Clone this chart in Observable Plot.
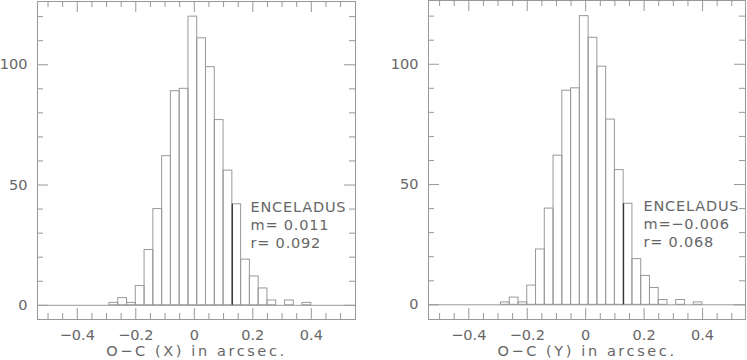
<!DOCTYPE html>
<html><head><meta charset="utf-8">
<script src="https://cdn.jsdelivr.net/npm/d3@7"></script>
<script src="https://cdn.jsdelivr.net/npm/@observablehq/plot@0.6"></script>
<style>
html,body{margin:0;padding:0;background:#fff;}
#wrap{position:relative;width:747px;height:360px;overflow:hidden;background:#fff;}
#wrap svg{position:absolute;top:0;}
</style></head><body><div id="wrap"></div>
<script>
// Histogram bins (lower edges, width 0.03 arcsec)
const binLo = [-0.29,-0.26,-0.23,-0.20,-0.17,-0.14,-0.11,-0.08,-0.05,-0.02,0.01,0.04,0.07,0.10,0.13,0.16,0.19,0.22,0.25,0.28,0.31,0.34,0.37];
const binWidth = 0.03;
const countsX = [1,3,1,8,23,40,62,89,90,120,111,99,77,56,42,19,12,7,2,0,2,0,1];
const countsY = [1,3,1,8,23,40,62,89,90,120,111,99,77,56,42,19,12,7,2,0,2,0,1];
const darkEdgeBin = 14;

const xMajor = [-0.4,-0.2,0,0.2,0.4];
const xMinor = [-0.5,-0.45,-0.35,-0.3,-0.25,-0.15,-0.1,-0.05,0.05,0.1,0.15,0.25,0.3,0.35,0.45,0.5];
const xTickLabels = ["\u22120.4","\u22120.2","0","0.2","0.4"];
const yMajor = [0,50,100];
const yMinor = [10,20,30,40,60,70,80,90,110,120];
const yTickLabels = ["0","50","100"];

const objectName = "ENCELADUS";
const statsX = ["m= 0.011","r= 0.092"];
const statsY = ["m=\u22120.006","r= 0.068"];
const axisLabelX = "O\u2212C (X) in arcsec.";
const axisLabelY = "O\u2212C (Y) in arcsec.";

const LINE = "#999";
const TEXT = "#666";
const H = 360;

function panel(o) {
  const innerW = o.width - o.marginLeft - o.marginRight;
  const innerH = H - o.marginTop - o.marginBottom;
  const bins = binLo.map((lo, i) => ({x1: lo, x2: lo + binWidth, n: o.counts[i]}));
  const svg = Plot.plot({
    width: o.width, height: H,
    marginLeft: o.marginLeft, marginRight: o.marginRight,
    marginTop: o.marginTop, marginBottom: o.marginBottom,
    style: {fontFamily: "DejaVu Sans", fontSize: "14.5px", color: TEXT, background: "transparent"},
    x: {domain: o.xDomain},
    y: {domain: o.yDomain},
    marks: [
      Plot.ruleY([0], {stroke: LINE}),
      Plot.rectY(bins.filter(d => d.n > 0), {x1: "x1", x2: "x2", y: "n", fill: "none", stroke: LINE}),
      Plot.ruleX([bins[darkEdgeBin]], {x: "x1", y1: 0, y2: "n", stroke: "#222"}),
      Plot.frame({stroke: LINE}),
      // inward ticks
      Plot.tickX(xMajor, {x: d => d, insetTop: innerH - 11, stroke: LINE}),
      Plot.tickX(xMinor, {x: d => d, insetTop: innerH - 6, stroke: LINE}),
      Plot.tickX(xMajor, {x: d => d, insetBottom: innerH - 11, stroke: LINE}),
      Plot.tickX(xMinor, {x: d => d, insetBottom: innerH - 6, stroke: LINE}),
      Plot.tickY(yMajor, {y: d => d, insetRight: innerW - 11, stroke: LINE}),
      Plot.tickY(yMinor, {y: d => d, insetRight: innerW - 6, stroke: LINE}),
      Plot.tickY(yMajor, {y: d => d, insetLeft: innerW - 11, stroke: LINE}),
      Plot.tickY(yMinor, {y: d => d, insetLeft: innerW - 6, stroke: LINE}),
      Plot.axisX({anchor: "bottom", ticks: xMajor, tickSize: 0, tickPadding: 10,
        tickFormat: d => xTickLabels[xMajor.indexOf(d)], label: null}),
      Plot.axisY({anchor: "left", ticks: yMajor, tickSize: 0, tickPadding: 10,
        tickFormat: d => yTickLabels[yMajor.indexOf(d)], label: null}),
      Plot.text([o.axisLabel], {frameAnchor: "bottom", dy: 36, lineAnchor: "bottom", textAnchor: "middle", fill: TEXT, className: "axlab"}),
      Plot.text([[objectName, ...o.stats].join("\n")], {frameAnchor: "top-left", dx: o.annDx, dy: o.annDy,
        textAnchor: "start", lineAnchor: "top", lineHeight: 18 / 14.5, fill: TEXT, className: "ann"})
    ]
  });
  svg.style.left = o.left + "px";
  d3.select(svg).selectAll(".axlab text").style("letter-spacing", "2.6px");
  d3.select(svg).selectAll(".ann text").style("letter-spacing", "0.8px");
  return svg;
}

const wrap = document.getElementById("wrap");
wrap.appendChild(panel({
  counts: countsX, axisLabel: axisLabelX, stats: statsX,
  left: 0, width: 373, marginLeft: 37, marginRight: 18, marginTop: 1, marginBottom: 41,
  xDomain: [-0.536, 0.551], yDomain: [-5.9, 126.3], annDx: 213, annDy: 198
}));
wrap.appendChild(panel({
  counts: countsY, axisLabel: axisLabelY, stats: statsY,
  left: 373, width: 374, marginLeft: 55, marginRight: 2, marginTop: 0, marginBottom: 41,
  xDomain: [-0.538, 0.547], yDomain: [-6.1, 126.5], annDx: 215, annDy: 198
}));
</script></body></html>
